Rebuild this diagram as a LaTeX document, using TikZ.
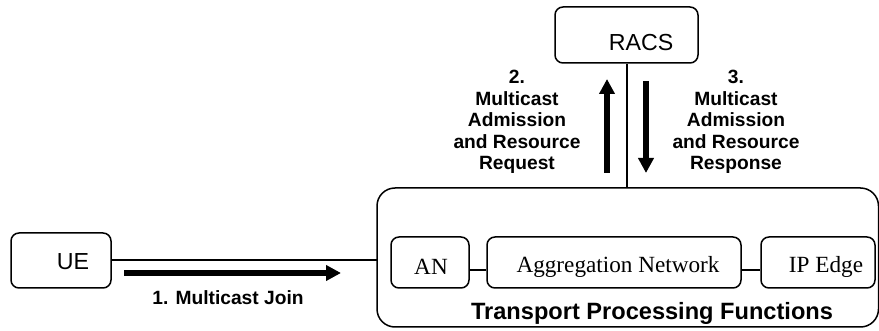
\documentclass[tikz,border=0pt]{standalone}
\usepackage{fontspec}
\setmainfont{Liberation Sans}
\newfontfamily\seriffont{Liberation Serif}
\usetikzlibrary{arrows.meta}
\begin{document}
\begin{tikzpicture}[x=0.5pt,y=-0.5pt,
  boxshape/.style={draw, line width=0.75pt, rounded corners=4pt, inner sep=0pt},
  bigbox/.style={draw, line width=0.75pt, rounded corners=9pt, inner sep=0pt},
  plaintext/.style={inner sep=0pt, font=\fontsize{11.6}{14}\selectfont},
  seriftext/.style={inner sep=0pt, font=\seriffont\fontsize{11.6}{14}\selectfont},
  boldlabel/.style={inner sep=0pt, align=center, font=\bfseries\fontsize{9.6}{10.75}\selectfont},
  titletext/.style={inner sep=0pt, font=\bfseries\fontsize{11.8}{14}\selectfont},
  thin/.style={line width=0.65pt},
  fat/.style={line width=2.6pt, -{Triangle[length=7.5pt,width=7.5pt]}}
]
\useasboundingbox (0,0) rectangle (879,331);
% boxes
\node[boxshape, minimum width=50pt, minimum height=27.5pt] (ue) at (61,260.5) {};
\node[plaintext] (uet) at (73,262) {UE};
\node[boxshape, minimum width=71.5pt, minimum height=28pt] (racs) at (626.5,35) {};
\node[plaintext] (racst) at (641,43) {RACS};
\node[bigbox, minimum width=250.75pt, minimum height=69.5pt] (tpf) at (627.75,257.5) {};
\node[boxshape, minimum width=39pt, minimum height=25.5pt] (an) at (430,262.5) {};
\node[seriftext] (ant) at (431,267) {AN};
\node[boxshape, minimum width=127pt, minimum height=25.5pt] (agg) at (614,262.5) {};
\node[seriftext] (aggt) at (618,267) {Aggregation Network};
\node[boxshape, minimum width=57pt, minimum height=25.5pt] (ipe) at (818,262.5) {};
\node[seriftext] (ipet) at (826,267) {IP Edge};
\node[titletext] (title) at (652,313) {Transport Processing Functions};
% connectors
\coordinate (uein) at (377,260);
\draw[thin] (ue.east |- uein) -- (uein);
\coordinate (racsdown) at (627,188);
\draw[thin] (racs.south -| racsdown) -- (racsdown);
\draw[thin] (an.east |- 0,270) -- (agg.west |- 0,270);
\draw[thin] (agg.east |- 0,270) -- (ipe.west |- 0,270);
% fat arrows
\coordinate (j1) at (124,273);
\coordinate (j2) at (341,273);
\draw[fat] (j1) -- (j2);
\coordinate (u1) at (607,173);
\coordinate (u2) at (607,79);
\draw[fat] (u1) -- (u2);
\coordinate (d1) at (646,81);
\coordinate (d2) at (646,173);
\draw[fat] (d1) -- (d2);
% labels
\node[boldlabel] (l1) at (228,298) {1. Multicast Join};
\node[boldlabel, anchor=north] (l2) at (517,70) {2.\\Multicast\\Admission\\and Resource\\Request};
\node[boldlabel, anchor=north] (l3) at (736,70) {3.\\Multicast\\Admission\\and Resource\\Response};
\end{tikzpicture}
\end{document}
